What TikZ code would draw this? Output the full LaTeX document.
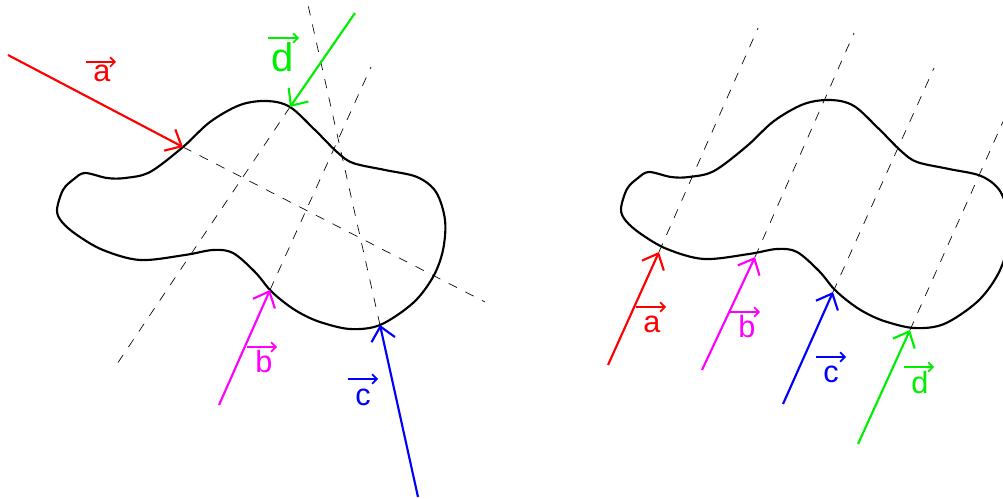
\documentclass[tikz,border=0pt]{standalone}
\usepackage{fontspec}
\setmainfont{Liberation Sans}
\usetikzlibrary{arrows.meta,calc}
\definecolor{cred}{RGB}{255,0,0}
\definecolor{cmag}{RGB}{255,0,255}
\definecolor{cblue}{RGB}{0,0,255}
\definecolor{cgreen}{RGB}{0,238,0}
\tikzset{
  blob/.style={line width=1.6pt, line join=round},
  ray/.style={line width=1.6pt, -{Straight Barb[length=10pt,width=18pt,line width=1.6pt]}},
  ext/.style={line width=0.5pt, dash pattern=on 7pt off 7pt},
  lbl/.style={anchor=base, inner sep=0pt, font=\fontsize{23}{23}\selectfont},
  biglbl/.style={anchor=base, inner sep=0pt, font=\fontsize{30}{30}\selectfont},
  vecarr/.style={line width=1.3pt, -{Straight Barb[length=3.5pt,width=7pt,line width=1.3pt]}},
}
\newcommand{\blobshape}{plot[smooth cycle, tension=0.55] coordinates {
  (57,210) (63,190) (74,179) (85,173) (107,178) (125,178) (150,172) (183,147)
  (210,122) (240,105) (267,101) (290,107) (315,130) (337,152) (353,163)
  (385,170) (417,177) (436,192) (445,220) (443,250) (433,277) (413,303)
  (380,325) (350,329) (320,322) (300,313) (285,303) (270,290) (255,272)
  (233,253) (213,250) (185,255) (140,260) (103,250) (77,235) (62,222)}}
\begin{document}
\begin{tikzpicture}[x=0.75pt,y=-0.75pt]
\useasboundingbox (0,0) rectangle (1003,499);
\clip (0,0) rectangle (1003,499);
% ---------- left figure ----------
\draw[blob] \blobshape;
\coordinate (la0) at (8,55);    \coordinate (laT) at (183,147); \coordinate (laE) at (485,302);
\coordinate (ld0) at (355,13);  \coordinate (ldT) at (290,107); \coordinate (ldE) at (115,367);
\coordinate (lb0) at (219,405); \coordinate (lbT) at (270,290); \coordinate (lbE) at (371,67);
\coordinate (lc0) at (418,497); \coordinate (lcT) at (380,325); \coordinate (lcE) at (308,5);
\draw[ext] (laT) -- (laE);
\draw[ext] (ldT) -- (ldE);
\draw[ext] (lbT) -- (lbE);
\draw[ext] (lcT) -- (lcE);
\draw[ray,cred] (la0) -- (laT);
\draw[ray,cgreen] (ld0) -- (ldT);
\draw[ray,cmag] (lb0) -- (lbT);
\draw[ray,cblue] (lc0) -- (lcT);
\node[lbl,cred] (lla) at (102,82) {a};
\node[biglbl,cgreen] (lld) at (283,72) {d};
\node[lbl,cmag] (llb) at (264,372) {b};
\node[lbl,cblue] (llc) at (363,405) {c};
\draw[vecarr,cred] ($(lla.base)+(-16,-20)$) -- ++(30,0);
\draw[vecarr,cgreen] ($(lld.base)+(-15,-34)$) -- ++(31,0);
\draw[vecarr,cmag] ($(llb.base)+(-17,-25)$) -- ++(30,0);
\draw[vecarr,cblue] ($(llc.base)+(-15,-26)$) -- ++(30,0);
% ---------- right figure ----------
\begin{scope}[shift={(564,-1)}]
\draw[blob] \blobshape;
\end{scope}
\coordinate (ra0) at (608,365); \coordinate (raT) at (659,252); \coordinate (raE) at (758,28);
\coordinate (rb0) at (702,370); \coordinate (rbT) at (755,257); \coordinate (rbE) at (854,33);
\coordinate (rc0) at (783,404); \coordinate (rcT) at (833,292); \coordinate (rcE) at (934,68);
\coordinate (rd0) at (858,444); \coordinate (rdT) at (910,330); \coordinate (rdE) at (1010,106);
\draw[ext] (raT) -- (raE);
\draw[ext] (rbT) -- (rbE);
\draw[ext] (rcT) -- (rcE);
\draw[ext] (rdT) -- (rdE);
\draw[ray,cred] (ra0) -- (raT);
\draw[ray,cmag] (rb0) -- (rbT);
\draw[ray,cblue] (rc0) -- (rcT);
\draw[ray,cgreen] (rd0) -- (rdT);
\node[lbl,cred] (rla) at (652,332) {a};
\node[lbl,cmag] (rlb) at (747,337) {b};
\node[lbl,cblue] (rlc) at (831,382) {c};
\node[lbl,cgreen] (rld) at (920,393) {d};
\draw[vecarr,cred] ($(rla.base)+(-16,-25)$) -- ++(30,0);
\draw[vecarr,cmag] ($(rlb.base)+(-17,-25)$) -- ++(30,0);
\draw[vecarr,cblue] ($(rlc.base)+(-15,-25)$) -- ++(30,0);
\draw[vecarr,cgreen] ($(rld.base)+(-16,-26)$) -- ++(30,0);
\end{tikzpicture}
\end{document}
